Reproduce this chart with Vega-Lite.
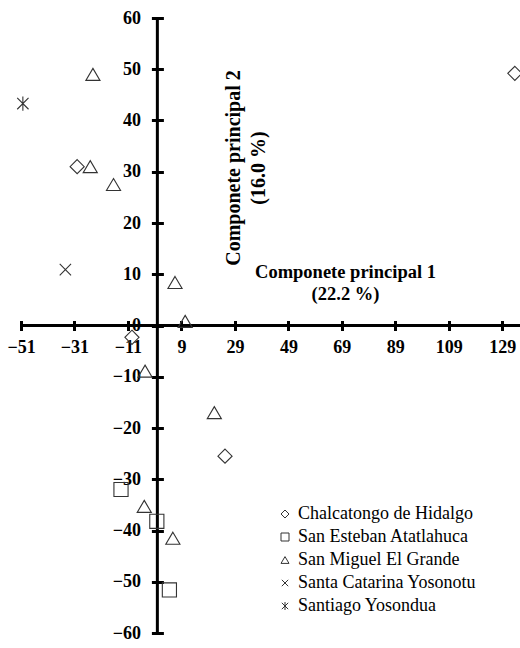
{
  "$schema": "https://vega.github.io/schema/vega-lite/v6.json",
  "width": 500,
  "height": 615,
  "autosize": "none",
  "padding": {"left": 21, "top": 18, "right": 0, "bottom": 15},
  "background": "white",
  "config": {"view": {"stroke": null}, "font": "Liberation Serif"},
  "data": {
    "values": [
      {"site": "Chalcatongo de Hidalgo", "pc1": 133.7, "pc2": 49.2},
      {"site": "Chalcatongo de Hidalgo", "pc1": -30, "pc2": 31},
      {"site": "Chalcatongo de Hidalgo", "pc1": -9.5, "pc2": -2.3},
      {"site": "Chalcatongo de Hidalgo", "pc1": 25.3, "pc2": -25.5},
      {"site": "San Esteban Atatlahuca", "pc1": -13.6, "pc2": -32},
      {"site": "San Esteban Atatlahuca", "pc1": -0.2, "pc2": -38.2},
      {"site": "San Esteban Atatlahuca", "pc1": 4.5, "pc2": -51.6},
      {"site": "San Miguel El Grande", "pc1": -24.1, "pc2": 49},
      {"site": "San Miguel El Grande", "pc1": -25.1, "pc2": 31},
      {"site": "San Miguel El Grande", "pc1": -16.4, "pc2": 27.5},
      {"site": "San Miguel El Grande", "pc1": 6.6, "pc2": 8.4},
      {"site": "San Miguel El Grande", "pc1": 10.4, "pc2": 0.8},
      {"site": "San Miguel El Grande", "pc1": -4.6, "pc2": -8.9},
      {"site": "San Miguel El Grande", "pc1": 21.3, "pc2": -17},
      {"site": "San Miguel El Grande", "pc1": -4.9, "pc2": -35.3},
      {"site": "San Miguel El Grande", "pc1": 5.8, "pc2": -41.5},
      {"site": "Santa Catarina Yosonotu", "pc1": -34.4, "pc2": 10.9},
      {"site": "Santiago Yosondua", "pc1": -50.3, "pc2": 43.3}
    ]
  },
  "layer": [
    {
      "data": {"values": [{}]},
      "mark": {"type": "rule", "strokeWidth": 3, "color": "black"},
      "encoding": {"x": {"datum": 0}, "y": {"datum": -60}, "y2": {"datum": 60}}
    },
    {
      "data": {"values": [{}]},
      "mark": {"type": "rule", "strokeWidth": 3, "color": "black"},
      "encoding": {"y": {"datum": 0}, "x": {"datum": -51}, "x2": {"datum": 136}}
    },
    {
      "mark": {"type": "point", "filled": false, "size": 200, "strokeWidth": 1.1, "color": "#333", "opacity": 1},
      "encoding": {
        "x": {
          "field": "pc1",
          "type": "quantitative",
          "scale": {"domain": [-51, 136], "nice": false, "zero": false},
          "axis": {
            "values": [-51, -31, -11, 9, 29, 49, 69, 89, 109, 129],
            "offset": -312.5,
            "domain": false,
            "grid": false,
            "tickSize": 10,
            "tickWidth": 3,
            "tickColor": "black",
            "labelFont": "Liberation Serif",
            "labelFontSize": 18,
            "labelFontWeight": "bold",
            "labelColor": "black",
            "labelPadding": 8,
            "labelFlush": false,
            "labelOverlap": false,
            "title": ["Componete principal 1", "(22.2 %)"],
            "titleX": 324,
            "titleY": -49.5,
            "titleAlign": "center",
            "titleBaseline": "middle",
            "titleFont": "Liberation Serif",
            "titleFontSize": 18.5,
            "titleFontWeight": "bold",
            "titleColor": "black",
            "titleLineHeight": 22
          }
        },
        "y": {
          "field": "pc2",
          "type": "quantitative",
          "scale": {"domain": [-60, 60], "nice": false, "zero": false},
          "axis": {
            "values": [-60, -50, -40, -30, -20, -10, 0, 10, 20, 30, 40, 50, 60],
            "offset": -142.4,
            "domain": false,
            "grid": false,
            "tickSize": 12,
            "tickWidth": 3,
            "tickColor": "black",
            "labelFont": "Liberation Serif",
            "labelFontSize": 18,
            "labelFontWeight": "bold",
            "labelColor": "black",
            "labelPadding": 11,
            "labelFlush": false,
            "labelOverlap": false,
            "title": ["Componete principal 2", "(16.0 %)"],
            "titleX": 69.6,
            "titleY": 149.5,
            "titleAngle": 270,
            "titleAlign": "center",
            "titleBaseline": "middle",
            "titleFont": "Liberation Serif",
            "titleFontSize": 20,
            "titleFontWeight": "bold",
            "titleColor": "black",
            "titleLineHeight": 25
          }
        },
        "shape": {
          "field": "site",
          "type": "nominal",
          "scale": {
            "range": [
              "M0,-1L1,0L0,1L-1,0Z",
              "M-1,-1L1,-1L1,1L-1,1Z",
              "M0,-0.85L1,0.85L-1,0.85Z",
              "M-0.8,-0.8L0.8,0.8M0.8,-0.8L-0.8,0.8",
              "M-0.8,-0.8L0.8,0.8M0.8,-0.8L-0.8,0.8M0,-1L0,1"
            ]
          },
          "legend": {
            "orient": "none",
            "legendX": 255,
            "legendY": 487,
            "title": null,
            "labelFont": "Liberation Serif",
            "labelFontSize": 18,
            "labelColor": "black",
            "labelLimit": 400,
            "symbolSize": 64,
            "symbolFillColor": "transparent",
            "symbolStrokeColor": "#333",
            "symbolStrokeWidth": 1,
            "rowPadding": 5,
            "labelOffset": 4
          }
        }
      }
    }
  ]
}
